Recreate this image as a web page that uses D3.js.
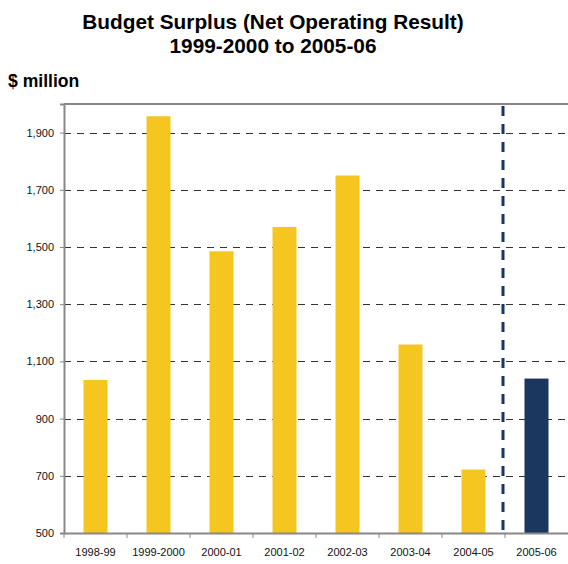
<!DOCTYPE html>
<html>
<head>
<meta charset="utf-8">
<script src="https://cdn.jsdelivr.net/npm/d3@7"></script>
<style>
body { margin: 0; background: #fff; }
svg { display: block; font-family: "Liberation Sans", Arial, sans-serif; }
</style>
</head>
<body>
<svg id="chart" width="568" height="564"></svg>
<script>
const categories = ["1998-99","1999-2000","2000-01","2001-02","2002-03","2003-04","2004-05","2005-06"];
const values = [1035, 1957, 1485, 1570, 1750, 1159, 722, 1040];
const yTicks = [500, 700, 900, 1100, 1300, 1500, 1700, 1900];
const highlight = ["2005-06"];

const svg = d3.select("#chart");
const margin = {left: 64, right: 0, top: 104, bottom: 31};
const W = 568, H = 564;
const x = d3.scaleBand().domain(categories).range([margin.left, W - margin.right]).paddingInner(0).paddingOuter(0);
const y = d3.scaleLinear().domain([500, 2000]).range([H - margin.bottom, margin.top]);

// Title
svg.append("text").attr("x", 273).attr("y", 29).attr("text-anchor", "middle")
  .attr("font-size", 20.8).attr("font-weight", "bold").text("Budget Surplus (Net Operating Result)");
svg.append("text").attr("x", 273).attr("y", 53).attr("text-anchor", "middle")
  .attr("font-size", 20.8).attr("font-weight", "bold").text("1999-2000 to 2005-06");
svg.append("text").attr("x", 8).attr("y", 87)
  .attr("font-size", 17.6).attr("font-weight", "bold").text("$ million");

// Gridlines
svg.append("g").selectAll("line").data(yTicks.filter(d => d > 500)).join("line")
  .attr("x1", margin.left).attr("x2", W)
  .attr("y1", d => Math.round(y(d)) + 0.5).attr("y2", d => Math.round(y(d)) + 0.5)
  .attr("stroke", "#333").attr("stroke-width", 1).attr("stroke-dasharray", "7,6");

// Bars
const bw = 24;
svg.append("g").selectAll("rect").data(categories).join("rect")
  .attr("x", (d) => x(d) + x.bandwidth() / 2 - bw / 2)
  .attr("width", bw)
  .attr("y", (d, i) => y(values[i]))
  .attr("height", (d, i) => y(500) - y(values[i]))
  .attr("fill", d => highlight.includes(d) ? "#1b365f" : "#f5c520");

// Top frame
svg.append("line").attr("x1", margin.left).attr("x2", W).attr("y1", margin.top).attr("y2", margin.top)
  .attr("stroke", "#888").attr("stroke-width", 2);

// Vertical dashed separator
const sepX = x("2005-06") - 2;
svg.append("line").attr("x1", sepX).attr("x2", sepX).attr("y1", margin.top + 2).attr("y2", H - margin.bottom + 4)
  .attr("stroke", "#1b365f").attr("stroke-width", 3).attr("stroke-dasharray", "10,8");

// Y axis
const yAxis = d3.axisLeft(y).tickValues(yTicks).tickFormat(d3.format(",")).tickSize(4).tickPadding(6);
const gy = svg.append("g").attr("transform", `translate(${margin.left},0)`).call(yAxis);
gy.select(".domain").attr("stroke", "#888").attr("stroke-width", 2);
gy.selectAll(".tick line").attr("stroke", "#888");
gy.selectAll(".tick text").attr("font-size", 11).attr("fill", "#111").attr("font-family", "Liberation Sans, Arial, sans-serif");

// X axis
const xAxis = d3.axisBottom(x).tickSize(0).tickPadding(15);
const gx = svg.append("g").attr("transform", `translate(0,${H - margin.bottom})`).call(xAxis);
gx.select(".domain").attr("stroke", "#888").attr("stroke-width", 2);
gx.selectAll(".tick text").attr("font-size", 11).attr("fill", "#111").attr("font-family", "Liberation Sans, Arial, sans-serif");
// boundary ticks
svg.append("g").selectAll("line").data(categories).join("line")
  .attr("x1", d => x(d)).attr("x2", d => x(d))
  .attr("y1", H - margin.bottom).attr("y2", H - margin.bottom + 5)
  .attr("stroke", "#888").attr("stroke-width", 1);
</script>
</body>
</html>
